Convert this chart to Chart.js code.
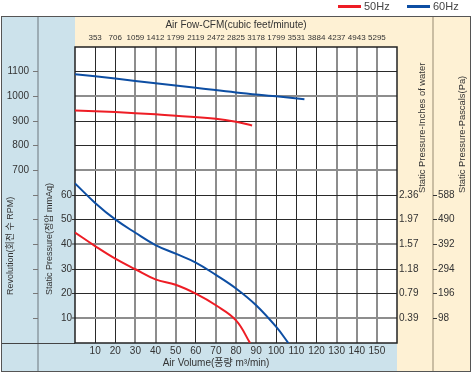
<!DOCTYPE html>
<html>
<head>
<meta charset="utf-8">
<script src="https://cdn.jsdelivr.net/npm/chart.js@4.4.1/dist/chart.umd.min.js"></script>
<style>
  html, body { margin:0; padding:0; background:#fff; }
  #wrap { width:471px; height:376px; }
</style>
</head>
<body>
<div id="wrap"><canvas id="fanChart" width="471" height="376"></canvas></div>
<script>
// ── values ──────────────────────────────────────────────────
const cfmLabels    = ['353','706','1059','1412','1799','2119','2472','2825','3178','1799','3531','3884','4237','4943','5295'];
const inchLabels   = ['0.39','0.79','1.18','1.57','1.97','2.36'];
const pascalLabels = ['98','196','294','392','490','588'];

// revolution curves (RPM vs m3/min)
const q50Rpm = [0, 20, 40, 50, 70, 80, 88];
const rpm50  = [943, 936, 927, 921, 909, 897, 882];
const q60Rpm = [0, 20, 40, 60, 80, 100, 114];
const rpm60  = [1090, 1072, 1053, 1035, 1016, 1000, 988];

// static pressure curves (mmAq vs m3/min)
const q50Ps = [0, 10, 20, 30, 40, 50, 60, 70, 80, 87];
const ps50  = [44.8, 39.3, 34.2, 29.9, 25.8, 23.6, 20.0, 15.3, 9.2, 0];
const q60Ps = [0, 10, 20, 30, 40, 50, 60, 70, 80, 90, 100, 106];
const ps60  = [64.7, 56.8, 50.1, 44.7, 39.7, 36.2, 32.6, 27.6, 22.1, 15.3, 6.5, 0];

const RED  = '#ee1d25';
const BLUE = '#0d4ea3';
const BLUE_BG = '#cce2eb';
const TAN_BG  = '#fef1d4';
const TXT = '#333';
const FONT = "'Liberation Sans', Arial, 'Noto Sans CJK KR', sans-serif";

const pts = (xs, ys) => xs.map((x, i) => ({ x, y: ys[i] }));

// grid lines that come out dark vs. soft grey on the sheet
const darkX = [10, 20, 60, 100, 110, 120];
const darkY = [20, 30, 50, 60, 80, 90, 110];

// ── panels, frame, titles, legend ───────────────────────────
const sheetPlugin = {
  id: 'sheet',
  beforeDraw(chart) {
    const { ctx, chartArea: a, scales } = chart;
    const L = 1, T = 17, R = 470, B = 372;
    ctx.save();
    ctx.fillStyle = BLUE_BG;
    ctx.fillRect(L, T, a.right - L, B - T);
    ctx.fillStyle = TAN_BG;
    ctx.fillRect(a.left, T, R - a.left, a.top - T);
    ctx.fillRect(a.right, T, R - a.right, B - T);
    ctx.fillStyle = '#fff';
    ctx.fillRect(a.left, a.top, a.right - a.left, a.bottom - a.top);

    // column dividers
    ctx.lineWidth = 1.5;
    ctx.strokeStyle = '#8c9aa2';
    const xl = scales.yRpm.right;
    ctx.beginPath(); ctx.moveTo(xl, T); ctx.lineTo(xl, B); ctx.stroke();
    ctx.strokeStyle = '#b8ab92';
    const xr = scales.yPa.left;
    ctx.beginPath(); ctx.moveTo(xr, T); ctx.lineTo(xr, B); ctx.stroke();
    ctx.strokeStyle = '#444';
    ctx.lineWidth = 1;
    ctx.beginPath(); ctx.moveTo(L, a.bottom + 0.5); ctx.lineTo(a.left, a.bottom + 0.5); ctx.stroke();

    // outer box
    ctx.strokeStyle = '#555';
    ctx.lineWidth = 1;
    ctx.strokeRect(L + 0.5, T - 0.5, R - L, B - T);
    ctx.restore();
  },
  beforeDatasetsDraw(chart) {
    const { ctx, chartArea: a } = chart;
    ctx.save();
    ctx.strokeStyle = '#222';
    ctx.lineWidth = 1.5;
    ctx.strokeRect(a.left, a.top, a.right - a.left, a.bottom - a.top);
    ctx.restore();
  },
  afterDraw(chart) {
    const { ctx } = chart;
    ctx.save();
    ctx.fillStyle = TXT;
    ctx.textBaseline = 'middle';

    // rotated side titles, read bottom to top
    const side = (txt, x, y, size) => {
      ctx.save();
      ctx.font = size + 'px ' + FONT;
      ctx.translate(x, y);
      ctx.rotate(-Math.PI / 2);
      ctx.textAlign = 'left';
      ctx.fillText(txt, 0, 0);
      ctx.restore();
    };
    side('Revolution(회전 수 RPM)', 11, 295, 9);
    side('Static Pressure(정압 mmAq)', 49.5, 295, 9);
    side('Static Pressure-Inches of water', 422, 193, 9.4);
    side('Static Pressure-Pascals(Pa)', 462, 193, 9.4);

    ctx.font = '10px ' + FONT;
    ctx.textAlign = 'center';
    ctx.fillText('Air Volume(풍량 m³/min)', 216, 363);

    // legend
    const legend = [['50Hz', RED, 338], ['60Hz', BLUE, 407]];
    ctx.font = '11px ' + FONT;
    ctx.textAlign = 'left';
    legend.forEach(([lbl, col, x]) => {
      ctx.fillStyle = col;
      ctx.fillRect(x, 5, 23, 3);
      ctx.fillStyle = '#444';
      ctx.fillText(lbl, x + 26, 7);
    });
    ctx.restore();
  }
};

const tickFont = { size: 10, family: FONT };

new Chart(document.getElementById('fanChart'), {
  type: 'line',
  data: {
    datasets: [
      { label: '50Hz RPM', data: pts(q50Rpm, rpm50), yAxisID: 'yRpm', borderColor: RED },
      { label: '60Hz RPM', data: pts(q60Rpm, rpm60), yAxisID: 'yRpm', borderColor: BLUE },
      { label: '50Hz Ps',  data: pts(q50Ps, ps50),   yAxisID: 'y',    borderColor: RED },
      { label: '60Hz Ps',  data: pts(q60Ps, ps60),   yAxisID: 'y',    borderColor: BLUE },
    ].map(d => ({ ...d, borderWidth: 2, pointRadius: 0, fill: false, tension: 0.4 }))
  },
  options: {
    responsive: false, animation: false,
    layout: { padding: { left: 1, right: 1, top: 17, bottom: 4 } },
    plugins: { legend: { display: false }, tooltip: { enabled: false } },
    scales: {
      x: {
        type: 'linear', position: 'bottom', min: 0, max: 160,
        afterFit: s => { s.height = 29; },
        border: { display: false },
        grid: {
          drawTicks: false,
          color: c => darkX.includes(c.tick.value) ? '#2a2a2a' : '#8d8d8d',
          lineWidth: c => darkX.includes(c.tick.value) ? 1 : 2,
        },
        ticks: {
          stepSize: 10, autoSkip: false, maxRotation: 0, padding: 2,
          color: TXT, font: tickFont,
          callback: v => (v > 0 && v < 160) ? v : null,
        },
      },
      x2: {
        type: 'linear', position: 'top', min: 0, max: 160,
        afterFit: s => { s.height = 30; },
        border: { display: false },
        grid: { display: false, drawTicks: false, drawOnChartArea: false },
        ticks: {
          stepSize: 10, autoSkip: false, maxRotation: 0, padding: 4,
          color: TXT, font: { size: 8, family: FONT },
          callback: v => (v >= 10 && v <= 150) ? cfmLabels[Math.round(v / 10) - 1] : null,
        },
        title: { display: true, text: 'Air Fow-CFM(cubic feet/minute)', color: TXT, font: tickFont, padding: { top: 2, bottom: 0 } },
      },
      y: {
        position: 'left', weight: 1, min: 0, max: 120,
        afterFit: s => { s.width = 37; },
        border: { display: false },
        grid: {
          tickLength: 3,
          color: c => darkY.includes(c.tick.value) ? '#2a2a2a' : '#8d8d8d',
          lineWidth: c => darkY.includes(c.tick.value) ? 1 : 2,
          tickColor: c => c.tick.value <= 60 ? '#333' : 'rgba(0,0,0,0)',
          tickWidth: 1,
        },
        ticks: {
          stepSize: 10, padding: 0, color: TXT, font: tickFont,
          callback: v => (v >= 10 && v <= 60) ? v : (v > 60 && v < 120 ? '' : null),
        },
      },
      yRpm: {
        position: 'left', weight: 2, min: 0, max: 1200,
        afterFit: s => { s.width = 37; },
        border: { display: false },
        grid: { drawOnChartArea: false, tickLength: 5, color: '#777' },
        ticks: {
          stepSize: 100, padding: 4, color: TXT, font: tickFont,
          callback: v => (v >= 700 && v <= 1100) ? v : (v > 0 && v < 1200 ? '' : null),
        },
      },
      yIn: {
        position: 'right', weight: 1, min: 0, max: 120,
        afterFit: s => { s.width = 36; },
        border: { display: false },
        grid: { drawOnChartArea: false, drawTicks: false },
        ticks: {
          stepSize: 10, padding: 2, color: TXT, font: tickFont,
          callback: v => (v >= 10 && v <= 60) ? inchLabels[Math.round(v / 10) - 1] : null,
        },
      },
      yPa: {
        position: 'right', weight: 2, min: 0, max: 120,
        afterFit: s => { s.width = 37; },
        border: { display: false },
        grid: { drawOnChartArea: false, tickLength: 4, color: '#333' },
        ticks: {
          stepSize: 10, padding: 1, color: TXT, font: tickFont,
          callback: v => (v >= 10 && v <= 60) ? pascalLabels[Math.round(v / 10) - 1] : null,
        },
      },
    },
  },
  plugins: [sheetPlugin],
});
</script>
</body>
</html>
